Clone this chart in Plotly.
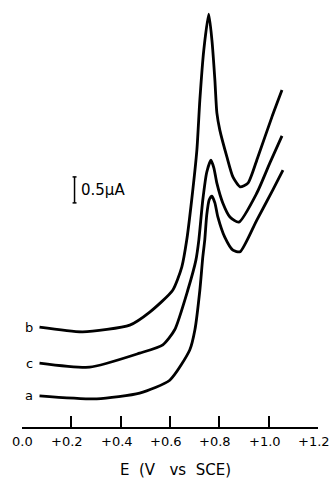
import plotly.graph_objects as go

# Potential (V vs SCE) and current (µA, arbitrary offset) for each curve
E_b = [0.071, 0.246, 0.437, 0.518, 0.611, 0.648, 0.668, 0.688, 0.709, 0.721, 0.737, 0.757,
       0.770, 0.782, 0.790, 0.802, 0.831, 0.855, 0.884, 0.916, 0.956, 1.013, 1.054]
I_b = [1.92, 1.83, 1.96, 2.21, 2.63, 3.08, 3.60, 4.37, 5.33, 6.29, 7.25, 7.94,
       7.44, 6.67, 6.04, 5.71, 5.19, 4.81, 4.62, 4.69, 5.19, 5.96, 6.48]

E_c = [0.071, 0.274, 0.477, 0.571, 0.619, 0.672, 0.705, 0.717, 0.733, 0.749, 0.766,
       0.778, 0.790, 0.814, 0.843, 0.879, 0.952, 1.005, 1.054]
I_c = [1.23, 1.15, 1.42, 1.58, 1.87, 2.63, 3.21, 3.60, 4.37, 4.90, 5.13,
       4.98, 4.69, 4.31, 4.04, 3.94, 4.50, 5.08, 5.60]

E_a = [0.071, 0.303, 0.477, 0.599, 0.680, 0.701, 0.721, 0.733, 0.741, 0.749, 0.759, 0.770,
       0.782, 0.794, 0.822, 0.855, 0.884, 0.952, 1.017, 1.058]
I_a = [0.60, 0.54, 0.65, 0.90, 1.48, 1.87, 2.63, 3.27, 3.60, 4.08, 4.37, 4.44,
       4.31, 4.04, 3.65, 3.40, 3.37, 3.98, 4.56, 4.94]

curve_names = ["b", "c", "a"]
tick_vals = [0.0, 0.2, 0.4, 0.6, 0.8, 1.0, 1.2]
tick_text = ["0.0", "+0.2", "+0.4", "+0.6", "+0.8", "+1.0", "+1.2"]

scale_E = 0.213
scale_bottom = 4.31
scale_len = 0.5
scale_label = "0.5\u00b5A"

FONT = "DejaVu Sans"

fig = go.Figure()
for name, E, I in zip(curve_names, [E_b, E_c, E_a], [I_b, I_c, I_a]):
    fig.add_trace(go.Scatter(x=E, y=I, mode="lines", name=name,
                             line=dict(color="black", width=2.8, shape="spline", smoothing=0.6),
                             hoverinfo="skip"))
    fig.add_annotation(x=E[0] - 0.018, y=I[0], text=name, showarrow=False,
                       xanchor="right", yanchor="middle",
                       font=dict(family=FONT, size=13, color="black"))

# scale bar
fig.add_shape(type="line", x0=scale_E, x1=scale_E, y0=scale_bottom, y1=scale_bottom + scale_len,
              line=dict(color="black", width=1.5))
for yy in [scale_bottom, scale_bottom + scale_len]:
    fig.add_shape(type="line", x0=scale_E - 0.008, x1=scale_E + 0.008, y0=yy, y1=yy,
                  line=dict(color="black", width=1.5))
fig.add_annotation(x=scale_E + 0.02, y=scale_bottom + scale_len / 2, text=scale_label,
                   showarrow=False, xanchor="left", yanchor="middle",
                   font=dict(family=FONT, size=15, color="black"))

# tick labels
for v, t in zip(tick_vals, tick_text):
    fig.add_annotation(x=v, y=0, yref="paper", yshift=-14, xshift=(-4 if t.startswith("+") else 0),
                       text=t, showarrow=False, xanchor="center", yanchor="middle",
                       font=dict(family=FONT, size=13, color="black"))

fig.add_annotation(x=0.52, y=0, xref="paper", yref="paper", yshift=-43,
                   text="E  (V   vs  SCE)", showarrow=False, yanchor="middle",
                   font=dict(family=FONT, size=15, color="black"))

fig.update_layout(
    width=330, height=479,
    margin=dict(l=22, r=12, t=10, b=52),
    paper_bgcolor="white", plot_bgcolor="white",
    showlegend=False,
    xaxis=dict(range=[0, 1.2], showgrid=False, zeroline=False, automargin=False,
               showline=True, linecolor="black", linewidth=1.5,
               ticks="inside", ticklen=11, tickwidth=1.5, tickcolor="black",
               tickvals=tick_vals, showticklabels=False),
    yaxis=dict(range=[0, 8.02], visible=False, automargin=False),
)

fig.write_html(
    "out.html",
    config={"displayModeBar": False},
    post_script="document.body.style.margin='0';document.body.style.padding='0';"
                "document.documentElement.style.overflow='hidden';",
)
